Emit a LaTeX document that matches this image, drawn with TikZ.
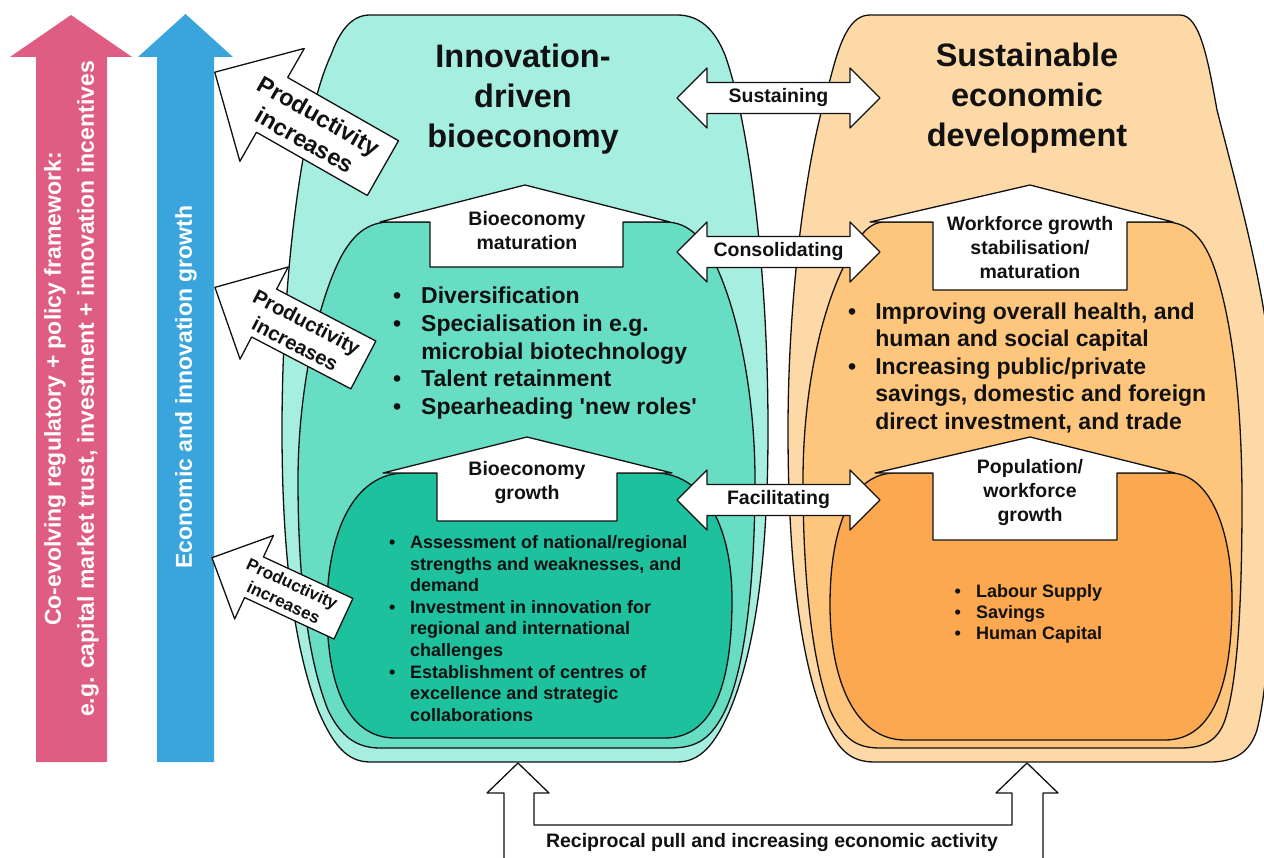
\documentclass[tikz,border=0pt]{standalone}
\usepackage{fontspec}
\setmainfont{Liberation Sans}
\definecolor{pinkA}{HTML}{DF5D82}
\definecolor{blueA}{HTML}{3AA5DC}
\definecolor{tealL}{HTML}{A5EEE0}
\definecolor{tealM}{HTML}{67DDC4}
\definecolor{tealD}{HTML}{1EC19E}
\definecolor{orL}{HTML}{FED9A8}
\definecolor{orM}{HTML}{FEC57C}
\definecolor{orD}{HTML}{FCA850}
\definecolor{ink}{HTML}{111111}
\newcommand\setfs[2]{\fontsize{#1}{#2}\selectfont}
\begin{document}
\begin{tikzpicture}[x=1pt,y=-1pt,
  shapeline/.style={draw=ink, line width=1.3pt, line join=round},
  whitebox/.style={shapeline, fill=white},
  lbl/.style={inner sep=0pt, align=center, text=ink, font=\setfs{19.5}{24}\bfseries},
  titletxt/.style={inner sep=0pt, align=center, text=ink, font=\setfs{32.5}{40}\bfseries},
  bullets/.style={inner sep=0pt, anchor=base west, text=ink},
  sidetxt/.style={inner sep=0pt, align=center, text=white, rotate=90, font=\setfs{23}{33}\bfseries}]
\useasboundingbox (0,0) rectangle (1264,858);

% left vertical arrows
\path[fill=pinkA] (71,15) -- (132,57) -- (107,57) -- (107,762) -- (36,762) -- (36,57) -- (10,57) -- cycle;
\path[fill=blueA] (185.5,14) -- (233,57) -- (214,57) -- (214,762) -- (157,762) -- (157,57) -- (138,57) -- cycle;
\node[sidetxt] (pinktxt) at (71.5,389) {Co-evolving regulatory + policy framework:\\e.g. capital market trust, investment + innovation incentives};
\node[sidetxt] (bluetxt) at (186,387) {Economic and innovation growth};

% teal shapes
\path[shapeline, fill=tealL] (370,15) -- (677,15) .. controls (700,15) and (715,30) .. (725,55)
  .. controls (745,110) and (768,250) .. (768,430)
  .. controls (768,560) and (755,650) .. (730,710) .. controls (715,745) and (700,762) .. (677,762)
  -- (370,762) .. controls (347,762) and (333,745) .. (318,710)
  .. controls (295,650) and (282,560) .. (282,430)
  .. controls (282,260) and (305,110) .. (331,55) .. controls (340,30) and (352,15) .. (370,15) -- cycle;
\path[shapeline, fill=tealM] (390,222) -- (665,222) .. controls (690,222) and (705,240) .. (718,270)
  .. controls (740,320) and (755,400) .. (755,480)
  .. controls (755,580) and (745,680) .. (720,720) .. controls (708,740) and (695,748) .. (670,748)
  -- (380,748) .. controls (355,748) and (340,735) .. (328,710)
  .. controls (308,660) and (298,580) .. (298,480)
  .. controls (298,390) and (318,300) .. (342,255) .. controls (354,234) and (368,222) .. (390,222) -- cycle;
\path[shapeline, fill=tealD] (405,473) -- (655,473) .. controls (700,473) and (732,520) .. (732,600)
  .. controls (732,680) and (715,738) .. (665,738) -- (395,738)
  .. controls (345,738) and (327,680) .. (327,610) .. controls (327,530) and (355,473) .. (405,473) -- cycle;

% orange shapes
\path[shapeline, fill=orL] (870,15) -- (1180,15) .. controls (1200,15) and (1208,60) .. (1217,110)
  .. controls (1245,220) and (1274,320) .. (1275,430)
  .. controls (1275,560) and (1270,680) .. (1257,730) .. controls (1250,752) and (1235,762) .. (1210,762)
  -- (875,762) .. controls (850,762) and (838,750) .. (825,720)
  .. controls (800,660) and (788,560) .. (788,430)
  .. controls (788,300) and (805,160) .. (830,80) .. controls (840,40) and (850,15) .. (870,15) -- cycle;
\path[shapeline, fill=orM] (885,222) -- (1165,222) .. controls (1190,222) and (1205,240) .. (1215,270)
  .. controls (1235,330) and (1242,420) .. (1242,500)
  .. controls (1242,600) and (1238,680) .. (1225,720) .. controls (1218,740) and (1205,748) .. (1180,748)
  -- (880,748) .. controls (855,748) and (843,738) .. (830,710)
  .. controls (812,660) and (803,580) .. (803,480)
  .. controls (803,400) and (818,320) .. (843,268) .. controls (855,243) and (865,222) .. (885,222) -- cycle;
\path[shapeline, fill=orD] (895,473) -- (1170,473) .. controls (1210,473) and (1232,530) .. (1232,600)
  .. controls (1232,680) and (1215,740) .. (1165,740) -- (905,740)
  .. controls (855,740) and (830,680) .. (830,605) .. controls (830,530) and (850,473) .. (895,473) -- cycle;

% titles
\node[titletxt] (t1) at (523,99) {Innovation-\\driven\\bioeconomy};
\node[titletxt] (t2) at (1027,98) {Sustainable\\economic\\development};

% house arrows
\path[whitebox] (380,222) -- (525,185) -- (670,222) -- (623,222) -- (623,267) -- (430,267) -- (430,222) -- cycle;
\path[whitebox] (383,473) -- (527,437) -- (672,473) -- (617,473) -- (617,521) -- (437,521) -- (437,473) -- cycle;
\path[whitebox] (870,222) -- (1030,185) -- (1173,222) -- (1127,222) -- (1127,290) -- (933,290) -- (933,222) -- cycle;
\path[whitebox] (875,473) -- (1030,437) -- (1175,473) -- (1117,473) -- (1117,540) -- (933,540) -- (933,473) -- cycle;
\node[lbl] (h1) at (527,231) {Bioeconomy\\maturation};
\node[lbl] (h2) at (527,483) {Bioeconomy\\growth};
\node[lbl] (h3) at (1030,248) {Workforce growth\\stabilisation/\\maturation};
\node[lbl] (h4) at (1030,493) {Population/\\workforce\\growth};

% double arrows
\foreach \yy/\nm/\tx in {98/d1/Sustaining, 252/d2/Consolidating, 500/d3/Facilitating}{
  \path[whitebox] (677,\yy) -- (707,\yy-30) -- (707,\yy-15.5) -- (850,\yy-15.5) -- (850,\yy-30)
    -- (880,\yy) -- (850,\yy+30) -- (850,\yy+15.5) -- (707,\yy+15.5) -- (707,\yy+30) -- cycle;
  \node[lbl] (\nm) at (778.5,\yy) {\tx};
}

% bullet lists
\node[bullets] (b1) at (393,304) {\setfs{23}{27.6}\bfseries\begin{tabular}[t]{@{}l@{\hspace{20pt}}l@{}}
\textbullet & Diversification\\
\textbullet & Specialisation in e.g.\\
 & microbial biotechnology\\
\textbullet & Talent retainment\\
\textbullet & Spearheading \textquotesingle new roles\textquotesingle
\end{tabular}};
\node[bullets] (b2) at (389,548.5) {\setfs{18}{21.6}\bfseries\begin{tabular}[t]{@{}l@{\hspace{14.7pt}}l@{}}
\textbullet & Assessment of national/regional\\
 & strengths and weaknesses, and\\
 & demand\\
\textbullet & Investment in innovation for\\
 & regional and international\\
 & challenges\\
\textbullet & Establishment of centres of\\
 & excellence and strategic\\
 & collaborations
\end{tabular}};
\node[bullets] (b3) at (848,319.3) {\setfs{23}{27.5}\bfseries\begin{tabular}[t]{@{}l@{\hspace{19pt}}l@{}}
\textbullet & Improving overall health, and\\
 & human and social capital\\
\textbullet & Increasing public/private\\
 & savings, domestic and foreign\\
 & direct investment, and trade
\end{tabular}};
\node[bullets] (b4) at (954.5,597.4) {\setfs{18}{21.2}\bfseries\begin{tabular}[t]{@{}l@{\hspace{15.2pt}}l@{}}
\textbullet & Labour Supply\\
\textbullet & Savings\\
\textbullet & Human Capital
\end{tabular}};

% productivity arrows
\begin{scope}[shift={(327.5,136.5)}, rotate=-29.7]
  \path[whitebox] (-129.8,0) -- (-63.8,-65) -- (-63.8,-31.5) -- (63.8,-31.5) -- (63.8,31.5) -- (-63.8,31.5) -- (-63.8,65) -- cycle;
\end{scope}
\begin{scope}[shift={(313.75,339)}, rotate=-27.6]
  \path[whitebox] (-111.5,0) -- (-56,-52) -- (-56,-27) -- (56,-27) -- (56,27) -- (-56,27) -- (-56,52) -- cycle;
\end{scope}
\begin{scope}[shift={(298.75,598)}, rotate=-24.9]
  \path[whitebox] (-95.7,0) -- (-49.3,-46) -- (-49.3,-22.4) -- (49.3,-22.4) -- (49.3,22.4) -- (-49.3,22.4) -- (-49.3,46) -- cycle;
\end{scope}
\node[lbl, rotate=-29.7, font=\setfs{23.5}{28.2}\bfseries] (p1) at (312,128) {Productivity\\increases};
\node[lbl, rotate=-27.6, font=\setfs{20.3}{25}\bfseries] (p2) at (301,333) {Productivity\\increases};
\node[lbl, rotate=-24.9, font=\setfs{17}{20.5}\bfseries] (p3) at (288,593) {Productivity\\increases};

% reciprocal arrow
\path[shapeline, fill=white] (504,862) -- (504,793) -- (487,793) -- (518,763) -- (549,793) -- (534,793) -- (534,825)
  -- (1012,825) -- (1012,793) -- (996,793) -- (1027,763) -- (1058,793) -- (1043,793) -- (1043,862);
\node[lbl] (rec) at (772,842) {Reciprocal pull and increasing economic activity};
\end{tikzpicture}
\end{document}
